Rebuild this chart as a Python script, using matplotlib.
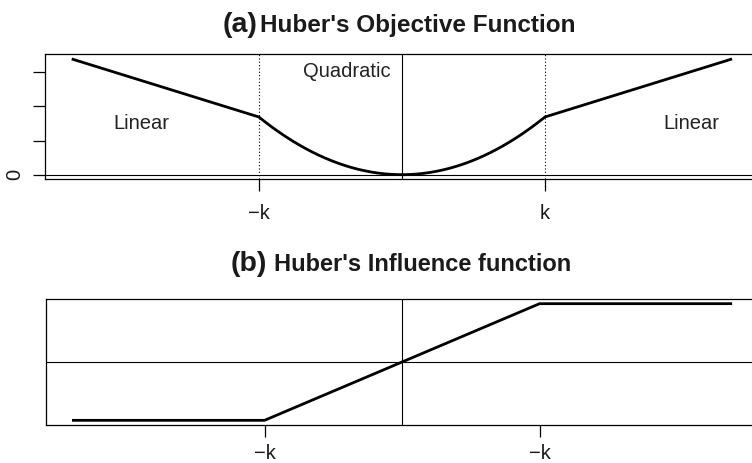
import matplotlib.pyplot as plt
import numpy as np

plt.rcParams["font.family"] = ["Liberation Sans", "DejaVu Sans"]

# panel (a): objective function
x_range = [-3.0, 3.0]
k_obj = 1.3           # position of the -k / k marks
obj_slope = 1.0       # slope of the linear arms
obj_yticks = [0, 1, 2, 3]
obj_yticklabels = ["0", "", "", ""]
obj_xticklabels = ["\u2212k", "k"]
region_labels = ["Linear", "Quadratic", "Linear"]
region_x = [-2.37, -0.5, 2.63]
region_y = [1.51, 3.01, 1.51]

# panel (b): influence function
k_inf = 1.25
inf_xticklabels = ["\u2212k", "\u2212k"]


def objective(x, k, slope):
    return np.where(np.abs(x) <= k, x ** 2, k ** 2 + slope * (np.abs(x) - k))


def influence(x, k):
    return np.clip(x, -k, k)


W, H = 752, 463
fig = plt.figure(figsize=(W / 100, H / 100), dpi=100)


def px_axes(left, top, right, bottom):
    return fig.add_axes([left / W, 1 - bottom / H, (right - left) / W, (bottom - top) / H])


def style(ax, pad):
    for side in ["left", "top", "bottom", "right"]:
        ax.spines[side].set_linewidth(0.9)
    ax.tick_params(axis="x", direction="out", length=8.6, width=0.9,
                   labelsize=14.5, pad=pad, labelcolor="#1a1a1a")


# ---- (a) Huber's objective function
ax1 = px_axes(45.3, 54.3, 758.5, 179.3)
style(ax1, 9)
xs = np.linspace(x_range[0], x_range[1], 601)
ys = objective(xs, k_obj, obj_slope)
ax1.plot(xs, ys, color="black", lw=2.0, solid_capstyle="butt")
ax1.axhline(0, color="black", lw=0.8)
ax1.axvline(0, color="black", lw=0.8)
for kx in [-k_obj, k_obj]:
    ax1.axvline(kx, color="black", lw=0.8, linestyle=(0, (1, 2)))
ymax = ys.max()
pad_y = 0.04 * ymax
pad_x = 0.04 * (x_range[1] - x_range[0])
ax1.set_xlim(x_range[0] - pad_x, x_range[1] + pad_x)
ax1.set_ylim(-pad_y, ymax + pad_y)
ax1.set_xticks([-k_obj, k_obj])
ax1.set_xticklabels(obj_xticklabels)
ax1.set_yticks(obj_yticks)
ax1.set_yticklabels(obj_yticklabels, rotation=90, va="center")
ax1.tick_params(axis="y", direction="out", length=8.6, width=0.9,
                labelsize=14.5, pad=6.5, labelcolor="#1a1a1a")
for lab, tx, ty in zip(region_labels, region_x, region_y):
    ax1.text(tx, ty, lab, ha="center", va="center", fontsize=14.5, color="#222222")

fig.text(257 / W, 1 - 32 / H, "(a)", ha="right", va="baseline",
         fontsize=20.5, fontweight="bold", color="#1a1a1a")
fig.text(260 / W, 1 - 32 / H, "Huber's Objective Function", ha="left",
         va="baseline", fontsize=17.5, fontweight="bold", color="#1a1a1a")

# ---- (b) Huber's influence function
ax2 = px_axes(45.6, 299, 758.5, 425)
style(ax2, 5)
ps = influence(xs, k_inf)
ax2.plot(xs, ps, color="black", lw=2.0, solid_capstyle="butt")
ax2.axhline(0, color="black", lw=0.8)
ax2.axvline(0, color="black", lw=0.8)
ax2.set_xlim(x_range[0] - pad_x, x_range[1] + pad_x)
ax2.set_ylim(-k_inf * 1.08, k_inf * 1.08)
ax2.set_xticks([-k_inf, k_inf])
ax2.set_xticklabels(inf_xticklabels)
ax2.set_yticks([])

fig.text(267 / W, 1 - 271 / H, "(b)", ha="right", va="baseline",
         fontsize=20.5, fontweight="bold", color="#1a1a1a")
fig.text(274 / W, 1 - 271 / H, "Huber's Influence function", ha="left",
         va="baseline", fontsize=17, fontweight="bold", color="#1a1a1a")

fig.savefig("out.png", dpi=100)
